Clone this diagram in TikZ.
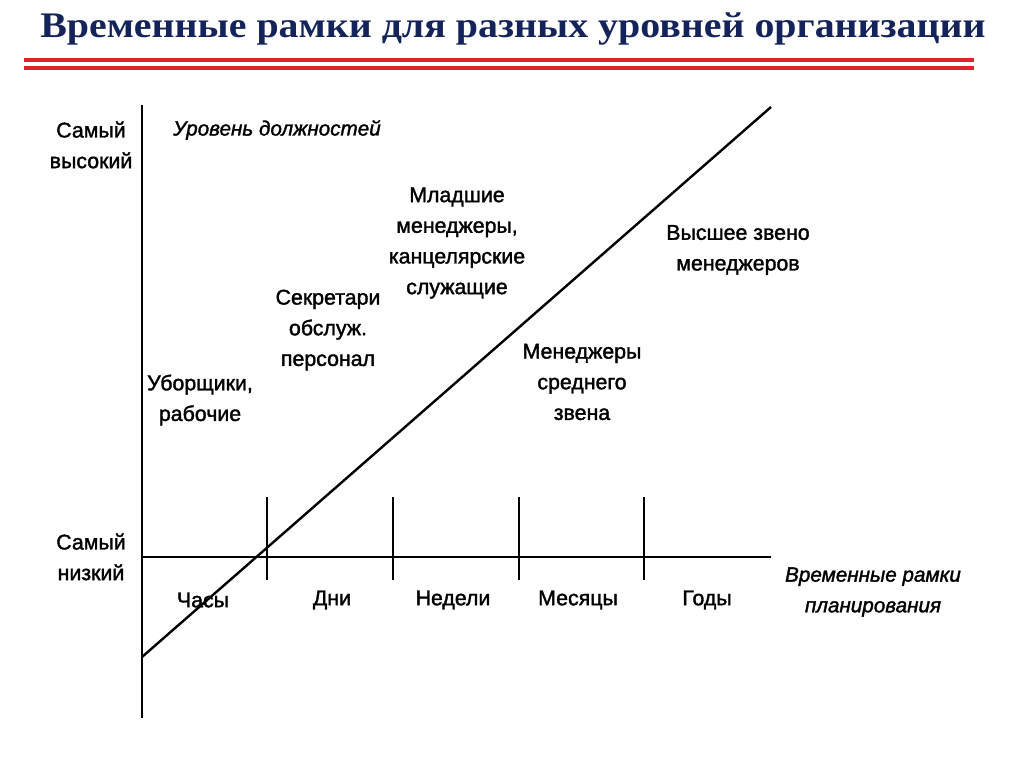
\documentclass[tikz,border=0pt]{standalone}
\usepackage{fontspec}
\setmainfont{Liberation Sans}
\newfontfamily\titlefont{Liberation Serif}
\newfontfamily\diagfont[FakeBold=1.6]{Liberation Sans}
\usetikzlibrary{positioning}
\definecolor{titleblue}{HTML}{14245A}
\definecolor{rulered}{HTML}{D8262B}
\tikzset{
  lbl/.style={font=\diagfont\fontsize{16}{23}\selectfont, align=center, inner sep=0pt},
  axislbl/.style={font=\diagfont\itshape\fontsize{15.5}{23}\selectfont, align=center, inner sep=0pt},
  axis/.style={line width=1.8pt},
  tick/.style={line width=1.6pt}
}

\begin{document}
\begin{tikzpicture}[x=0.75pt,y=-0.75pt]
		\useasboundingbox (0,0) rectangle (1024,767);
		% title and rules
		\node[anchor=base, inner sep=0pt, text=titleblue] (title) at (513,38)
		  {\resizebox{709pt}{\height}{\titlefont\bfseries\fontsize{27}{27}\selectfont Временные рамки для разных уровней организации}};
		\draw[rulered, line width=2.4pt] (24,60)--(974,60);
		\draw[rulered, line width=2.4pt] (24,68)--(974,68);
		% axes
		\coordinate (top) at (142,105);
		\coordinate (bottom) at (142,718);
		\coordinate (origin) at (142,557);
		\coordinate (xend) at (771,557);
		\draw[axis] (top)--(bottom);
		\draw[axis] (origin)--(xend);
		\foreach \x/\name in {267/a,393/b,519/c,644/d}{
		  \coordinate (t\name) at (\x,497);
		  \coordinate (b\name) at (\x,580);
		  \draw[tick] (t\name)--(b\name);
		}
		% diagonal
		\coordinate (lo) at (142,657);
		\coordinate (hi) at (771,107);
		\draw[axis] (lo)--(hi);
		% axis labels
		\node[lbl] (highest) at (91,145) {Самый\\высокий};
		\node[lbl] (lowest) at (91,557) {Самый\\низкий};
		\node[axislbl] (ylabel) at (277,130) {Уровень должностей};
		\node[axislbl] (xlabel) at (873,592) {Временные рамки\\планирования};
		\node[lbl] (hours) at (203,600) {Часы};
		\node[lbl] (days) at (332,600) {Дни};
		\node[lbl] (weeks) at (453,600) {Недели};
		\node[lbl] (months) at (578,600) {Месяцы};
		\node[lbl] (years) at (707,600) {Годы};
		% levels
		\node[lbl] (workers) at (200,400) {Уборщики,\\рабочие};
		\node[lbl] (secr) at (328,330) {Секретари\\обслуж.\\персонал};
		\node[lbl] (junior) at (457,243) {Младшие\\менеджеры,\\канцелярские\\служащие};
		\node[lbl] (middle) at (582,382) {Менеджеры\\среднего\\звена};
		\node[lbl] (senior) at (738,250) {Высшее звено\\менеджеров};
\end{tikzpicture}
\end{document}
